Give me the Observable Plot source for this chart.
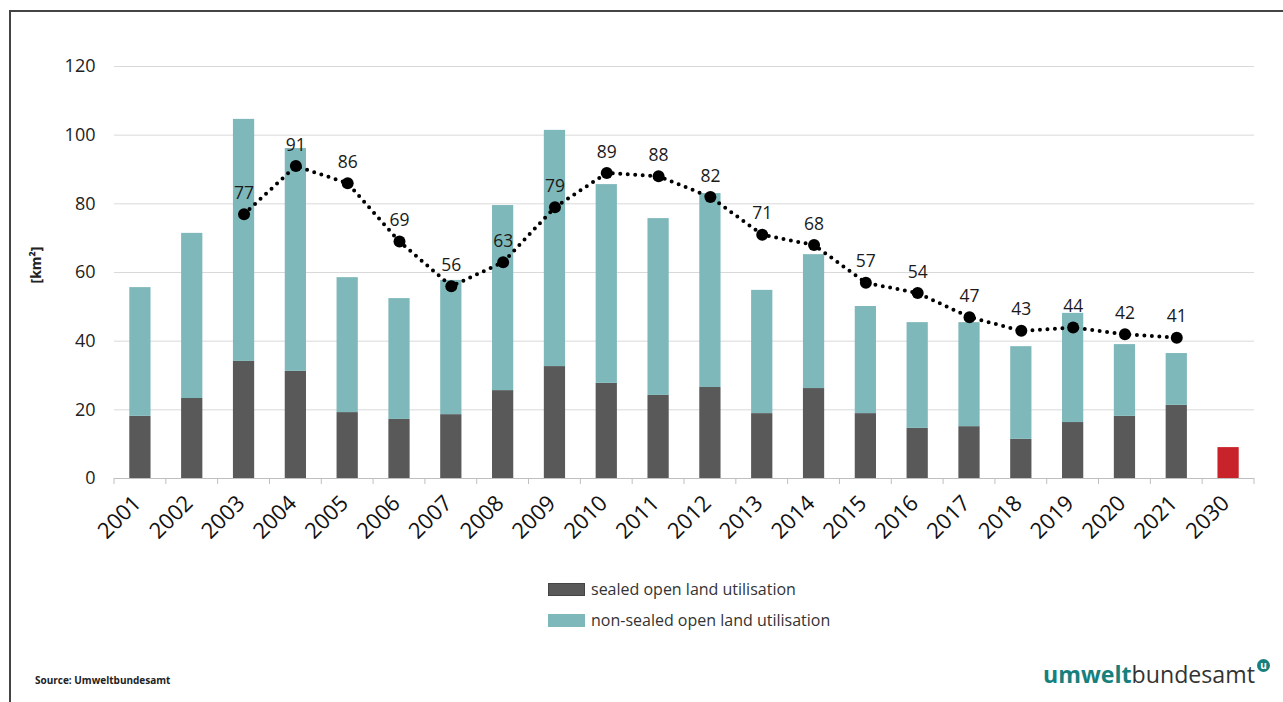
<!DOCTYPE html>
<html>
<head>
<meta charset="utf-8">
<script src="https://cdn.jsdelivr.net/npm/d3@7"></script>
<script src="https://cdn.jsdelivr.net/npm/@observablehq/plot@0.6"></script>
<style>
  body { margin: 0; background: #fff; font-family: "Open Sans", sans-serif; }
  #wrap { position: relative; width: 1283px; height: 702px; overflow: hidden; background: #fff; }
  #frame { position: absolute; left: 9px; top: 10px; width: 1300px; height: 720px; border-left: 2px solid #444; border-top: 2px solid #444; box-sizing: border-box; }
  #chart { position: absolute; left: 0; top: 0; }
  #ylab { position: absolute; left: 35px; top: 265px; transform: translate(-50%, -50%) rotate(-90deg); font-size: 14px; font-weight: bold; color: #222; white-space: nowrap; }
  .leg { position: absolute; left: 548px; font-size: 16px; color: #333; display: flex; align-items: center; }
  .leg span.sw { display: inline-block; width: 37px; height: 13px; margin-right: 6px; }
  #source { position: absolute; left: 35px; top: 673px; font-size: 10px; font-weight: bold; color: #222; }
  #logo { position: absolute; left: 1043px; top: 658px; font-size: 23px; color: #333; white-space: nowrap; }
  #logo b { color: #17807c; font-weight: 700; }
  #logo .u { position: absolute; right: -15px; top: 1px; width: 13px; height: 13px; border-radius: 50%; background: #17807c; color: #fff; font-size: 10px; line-height: 12px; text-align: center; font-weight: bold; }
</style>
</head>
<body>
<div id="wrap">
  <div id="frame"></div>
  <div id="chart"></div>
  <div id="ylab">[km²]</div>
  <div class="leg" style="top:578px"><span class="sw" style="background:#595959;border:1px solid #444;box-sizing:border-box"></span>sealed open land utilisation</div>
  <div class="leg" style="top:609px"><span class="sw" style="background:#7fb8bb"></span>non-sealed open land utilisation</div>
  <div id="source">Source: Umweltbundesamt</div>
  <div id="logo"><span id="logotext"><b>umwelt</b>bundesamt</span><span class="u">u</span></div>
</div>
<script>
const years = ["2001","2002","2003","2004","2005","2006","2007","2008","2009","2010","2011","2012","2013","2014","2015","2016","2017","2018","2019","2020","2021","2030"];
const sealed = [18.1,23.3,34.1,31.2,19.2,17.2,18.6,25.6,32.6,27.7,24.2,26.5,18.9,26.2,18.9,14.6,15.1,11.4,16.3,18.1,21.3,null];
const nonSealed = [37.5,48.1,70.5,64.9,39.3,35.2,39.1,53.9,68.8,57.9,51.5,56.5,35.9,39.0,31.2,30.8,30.3,27.0,31.8,20.9,15.1,null];
const target2030 = [{year: "2030", value: 9}];
const avgYears = ["2003","2004","2005","2006","2007","2008","2009","2010","2011","2012","2013","2014","2015","2016","2017","2018","2019","2020","2021"];
const avgValues = [77,91,86,69,56,63,79,89,88,82,71,68,57,54,47,43,44,42,41];
const yTicks = [0,20,40,60,80,100,120];

const barData = [];
years.forEach((y, i) => {
  if (sealed[i] != null) barData.push({year: y, type: "sealed", value: sealed[i]});
  if (nonSealed[i] != null) barData.push({year: y, type: "nonsealed", value: nonSealed[i]});
});
const avgData = avgYears.map((y, i) => ({year: y, value: avgValues[i]}));

const plot = Plot.plot({
  width: 1283,
  height: 570,
  marginLeft: 114,
  marginRight: 29,
  marginTop: 66,
  marginBottom: 92,
  style: {fontFamily: "Open Sans, sans-serif", background: "transparent"},
  x: {domain: years, paddingInner: 0.59, paddingOuter: 0.295, round: false, label: null},
  y: {domain: [0, 120], ticks: yTicks, label: null},
  color: {domain: ["sealed", "nonsealed"], range: ["#595959", "#7fb8bb"]},
  marks: [
    Plot.gridY(yTicks, {stroke: "#d9d9d9", strokeOpacity: 1}),
    Plot.axisY(yTicks, {tickSize: 0, tickPadding: 19, fontSize: 18, fill: "#222", label: null}),
    Plot.barY(barData, Plot.stackY({x: "year", y: "value", fill: "type", order: ["sealed", "nonsealed"]})),
    Plot.barY(target2030, {x: "year", y: "value", fill: "#c8232a"}),
    Plot.ruleY([0], {stroke: "#bfbfbf"}),
    Plot.line(avgData, {x: "year", y: "value", stroke: "#000", strokeWidth: 4, strokeDasharray: "0,7.5", strokeLinecap: "round"}),
    Plot.dot(avgData, {x: "year", y: "value", r: 6, fill: "#000"}),
    Plot.text(avgData, {x: "year", y: "value", text: d => String(d.value), dy: -21, fontSize: 17.5, fill: "#1a1a1a"}),
    Plot.axisX({tickSize: 0, tickRotate: -45, fontSize: 22, fill: "#111", tickPadding: 21, dx: -3, label: null})
  ]
});
document.getElementById("chart").appendChild(plot);

// boundary ticks on x axis using the band scale
const xs = plot.scale("x");
const ys = plot.scale("y");
const y0 = ys.apply(0);
const step = xs.step;
const svg = d3.select(plot);
const bounds = years.map(y => xs.apply(y) - (step - xs.bandwidth) / 2);
bounds.push(xs.apply(years[years.length - 1]) + xs.bandwidth + (step - xs.bandwidth) / 2);
svg.append("g").selectAll("line").data(bounds).join("line")
  .attr("x1", d => d).attr("x2", d => d)
  .attr("y1", y0).attr("y2", y0 + 6)
  .attr("stroke", "#bfbfbf");

// fit logo text to its width in the reference
const lt = document.getElementById("logotext");
const w = lt.getBoundingClientRect().width;
if (w > 0) document.getElementById("logo").style.fontSize = (23 * 212 / w) + "px";
</script>
</body>
</html>
